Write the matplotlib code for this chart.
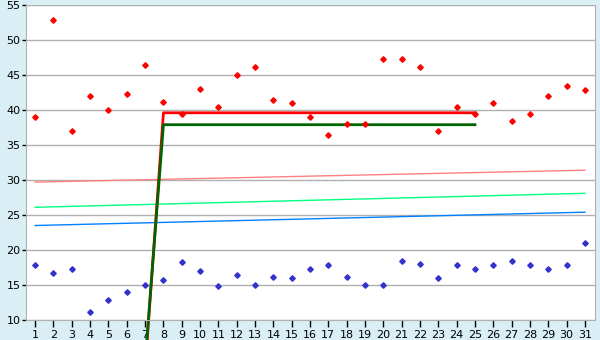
import matplotlib
matplotlib.use('Agg')
import matplotlib.pyplot as plt
import numpy as np

# x categories
days = list(range(1, 32))

# scatter series
red_values = [39, 52.8, 37, 42, 40, 42.25, 46.5, 41.1, 39.5, 43,
              40.4, 45, 46.1, 41.5, 40.95, 39, 36.4, 38, 38, 47.25,
              47.25, 46.1, 37, 40.5, 39.5, 40.95, 38.5, 39.5, 42, 43.5,
              42.8]
blue_values = [17.8, 16.7, 17.25, 11.1, 12.8, 13.95, 14.95, 15.7, 18.25, 16.95,
               14.8, 16.5, 14.95, 16.1, 15.95, 17.25, 17.8, 16.1, 14.95, 14.95,
               18.4, 17.95, 16, 17.8, 17.25, 17.8, 18.4, 17.8, 17.25, 17.8,
               20.95]

# trend lines (start and end values at day 1 and day 31)
trend_x = [1, 31]
trend_salmon = [29.7, 31.4]
trend_green = [26.1, 28.1]
trend_blue = [23.5, 25.4]

# step lines
step_x = [7, 8, 25]
step_red = [3.0, 39.6, 39.6]
step_green = [4.0, 37.9, 37.9]

bg = '#d9eff5'
fig = plt.figure(figsize=(6, 3.4), dpi=100, facecolor=bg)
ax = fig.add_axes([26 / 600, 1 - 320 / 340, 569 / 600, 315 / 340])
ax.set_facecolor('white')

ax.set_xlim(0.5, 31.55)
ax.set_ylim(10, 55)

ax.set_yticks(np.arange(10, 56, 5))
ax.grid(axis='y', color='#b0b0b0', linewidth=1)
ax.set_axisbelow(True)

ax.plot(trend_x, trend_salmon, color='#ff8080', linewidth=1)
ax.plot(trend_x, trend_green, color='#00ff80', linewidth=1)
ax.plot(trend_x, trend_blue, color='#0080ff', linewidth=1)

ax.plot(step_x, step_red, color='#ff0000', linewidth=2, clip_on=False)
ax.plot(step_x, step_green, color='#006400', linewidth=2, clip_on=False)

ax.plot(days, red_values, linestyle='none', marker='D', markersize=2.8,
        color='#ff0000')
ax.plot(days, blue_values, linestyle='none', marker='D', markersize=2.8,
        color='#3333cc')

ax.set_xticks(days)
ax.tick_params(axis='x', direction='out', length=5, width=1, colors='black',
               labelsize=8, pad=2)
ax.tick_params(axis='y', direction='out', length=3, width=1, colors='black',
               labelsize=8, pad=1)

for side in ['left', 'right', 'bottom', 'top']:
    ax.spines[side].set_color('#b0b0b0')
ax.spines['top'].set_visible(False)

fig.savefig('out.png', dpi=100, facecolor=bg)
